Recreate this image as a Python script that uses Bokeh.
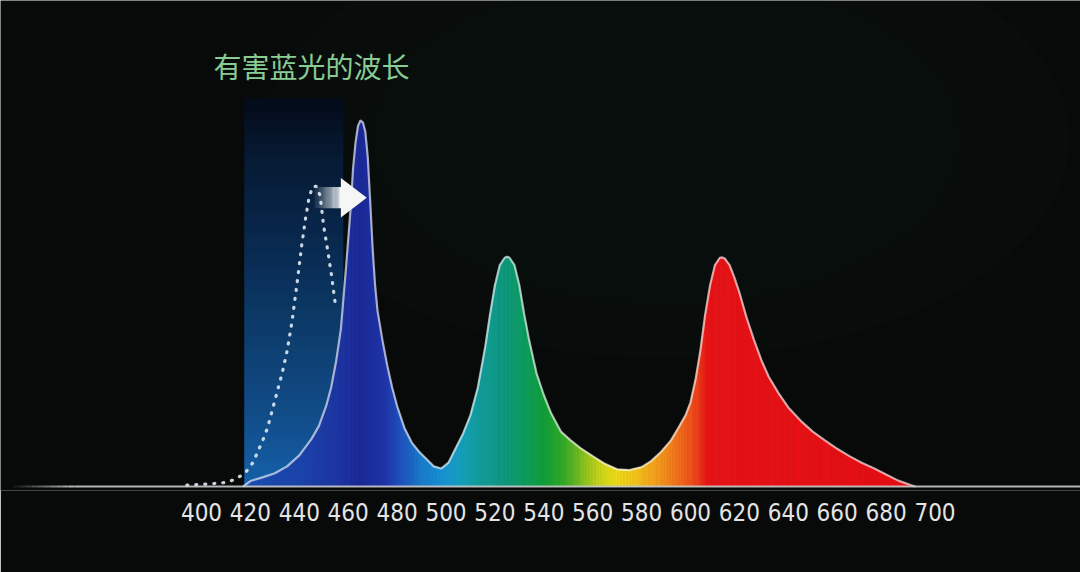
import numpy as np
from bokeh.plotting import figure
from bokeh.models import FixedTicker
from bokeh.embed import file_html
from bokeh.resources import INLINE
from bokeh.core.properties import value

# ---------------- data ----------------
TITLE = "有害蓝光的波长"
TICKS = [400, 420, 440, 460, 480, 500, 520, 540, 560, 580, 600, 620, 640, 660, 680, 700]

# LED spectrum: wavelength (nm) and relative intensity (blue peak = 100)
LED_NM = [417, 420, 425, 430, 435, 440, 445, 448, 451, 453, 455, 457, 459, 461, 462, 463, 464,
          465, 466, 467, 468, 469, 470, 471, 472, 474, 476, 478, 480, 483, 486, 489, 492, 495,
          498, 501, 504, 507, 510, 513, 516, 518, 520, 522, 524, 525, 526, 528, 530, 532, 534,
          537, 540, 543, 547, 551, 555, 560, 565, 570, 575, 580, 584, 588, 592, 595, 598, 600,
          602, 604, 606, 608, 610, 612, 613, 614, 616, 618, 620, 623, 626, 629, 632, 636, 640,
          645, 650, 655, 660, 665, 670, 675, 680, 685, 690, 692]
LED_VAL = [0, 1.5, 2.5, 3.6, 5.5, 8.5, 13, 16.5, 22, 27, 34, 43, 59, 76, 87, 94, 98.5,
           100, 99.5, 97, 90, 78, 65, 55, 48, 40, 33, 27, 22, 16, 12, 9.5, 7.5, 5.5,
           4.9, 6.5, 10.5, 14.5, 19.5, 27, 38, 47, 55, 60.5, 62.5, 62.8, 62.5, 60.5, 55, 47, 40,
           31, 25, 20, 15, 12.6, 10.5, 8.3, 6.2, 4.7, 4.5, 5.3, 7, 9.5, 12.6, 16, 19.5, 23,
           29, 37, 47, 55, 60.5, 62.5, 62.6, 62.3, 60.5, 57, 53, 46, 40, 34.5, 30, 25.5, 21.6,
           18, 15, 12.6, 10.3, 8.3, 6.5, 5, 3.3, 1.6, 0.4, 0]

# Harmful blue light curve (dotted)
HAZ_NM = [394, 400, 405, 410, 414, 418, 421, 423, 425, 427, 429, 431, 433, 435, 437, 439,
          441, 442.5, 444, 445.5, 447, 448.5, 450, 451.5, 453, 455]
HAZ_VAL = [0.4, 0.6, 0.8, 1.1, 2, 3.8, 6.5, 9.5, 12.5, 16, 21, 26, 31, 37, 45, 55,
           66, 73, 79, 82, 82, 79.5, 71, 65, 58.5, 48.5]

# Harmful blue band
HAZ_BAND = [417.5, 458]
HAZ_BAND_TOP = 106

# ---------------- styling ----------------
BG = "#080a0a"
SPEC_STOP_NM = [410, 440, 455, 465, 475, 482, 490, 498, 505, 512, 522, 532, 540, 548, 555,
                562, 570, 578, 588, 597, 603, 607, 700]
SPEC_STOP_COL = ["#1d4fae", "#1c44aa", "#1e36a2", "#1c2a9a", "#1f36aa", "#1f55c0", "#1a7ccc",
                 "#1892d6", "#17a0c4", "#13a0a4", "#109a86", "#0f9c62", "#12a03c", "#32aa28",
                 "#78bc22", "#c4d41c", "#f0dc18", "#f4c21c", "#f4961c", "#f2661c", "#ee401a",
                 "#e81418", "#e60f14"]
BAND_STOP_V = [0, 20, 45, 70, 90, 106]
BAND_STOP_COL = ["#1560aa", "#114c88", "#0c3a68", "#08264a", "#061a33", "#040a18"]


def hex2rgb(h):
    h = h.lstrip("#")
    return [int(h[i:i + 2], 16) for i in (0, 2, 4)]


def interp_color(v, stops, cols):
    rgb = np.array([hex2rgb(c) for c in cols], dtype=float)
    r = [np.interp(v, stops, rgb[:, k]) for k in range(3)]
    return "#%02x%02x%02x" % tuple(int(round(c)) for c in r)


# ---------------- figure / scales ----------------
W, H = 1080, 572
PX_PER_NM = 2.445
X0 = 400 - 201 / PX_PER_NM
X1 = X0 + W / PX_PER_NM
FRAME_H = 490
PX_PER_UNIT = 3.66
Y0 = -(FRAME_H - 486) / PX_PER_UNIT
Y1 = Y0 + FRAME_H / PX_PER_UNIT

p = figure(width=W, height=H, x_range=(X0, X1), y_range=(Y0, Y1),
           output_backend="svg", toolbar_location=None, y_axis_location=None,
           min_border_left=0, min_border_right=0, min_border_top=0, min_border_bottom=H - FRAME_H)
p.background_fill_color = BG
p.border_fill_color = BG
p.outline_line_color = None
p.grid.visible = False

# faint greenish glow in background
for w, h, a in [(330, 120, 0.05), (240, 90, 0.05), (150, 60, 0.04)]:
    p.ellipse(x=[590], y=[95], width=[w], height=[h], fill_color="#1d3a30",
              fill_alpha=a, line_color=None)

# harmful band rectangle with vertical gradient
n_strip = 90
edges = np.linspace(0, HAZ_BAND_TOP, n_strip + 1)
band_cols = [interp_color((edges[i] + edges[i + 1]) / 2, BAND_STOP_V, BAND_STOP_COL)
             for i in range(n_strip)]
tops = np.minimum(edges[1:] + 0.4, HAZ_BAND_TOP)
p.quad(left=HAZ_BAND[0], right=HAZ_BAND[1], bottom=edges[:-1], top=tops,
       fill_color=band_cols, line_color=None)

# spectrum fill, coloured by wavelength
xs, ys, cols = [], [], []
for i in range(len(LED_NM) - 1):
    x0, x1 = LED_NM[i], LED_NM[i + 1]
    y0, y1 = LED_VAL[i], LED_VAL[i + 1]
    n = max(1, int(np.ceil((x1 - x0) / 0.7)))
    for k in range(n):
        a, b = k / n, (k + 1) / n
        xa, xb = x0 + (x1 - x0) * a, x0 + (x1 - x0) * b
        ya, yb = y0 + (y1 - y0) * a, y0 + (y1 - y0) * b
        xs.append([xa, xb, xb, xa])
        ys.append([0, 0, yb, ya])
        cols.append(interp_color((xa + xb) / 2, SPEC_STOP_NM, SPEC_STOP_COL))
p.patches(xs, ys, fill_color=cols, line_color=cols, line_width=0.7)

# spectrum outline
p.line(LED_NM, LED_VAL, line_color="#ffffff", line_alpha=0.62, line_width=2.2)

# baseline (fading in at the left)
x_start = X0 + 13 / PX_PER_NM
fade_x = np.linspace(x_start, x_start + 25, 11)
p.segment(x0=fade_x[:-1], y0=0, x1=fade_x[1:], y1=0, line_color="#c8c8c8",
          line_alpha=list(np.linspace(0.1, 0.9, 10)), line_width=2.2)
p.line([fade_x[-1], X1], [0, 0], line_color="#c8c8c8", line_alpha=0.9, line_width=2.2)

# dotted harmful-blue curve
p.line(HAZ_NM, HAZ_VAL, line_color="#dfe8f2", line_alpha=0.9, line_width=3.2,
       line_dash="1 8", line_cap="round")

# arrow from harmful peak to LED blue peak
haz_peak = HAZ_NM[int(np.argmax(HAZ_VAL))] + 0.75
led_peak = LED_NM[int(np.argmax(LED_VAL))]
tip = led_peak + 2.6
head_base = tip - 10.6
ay, half_shaft, half_head = 78.9, 2.9, 5.4
n_sh = 30
sx = np.linspace(haz_peak, head_base, n_sh + 1)
sh_alpha = [0.08 + 0.92 * ((k + 0.5) / n_sh) ** 1.4 for k in range(n_sh)]
p.quad(left=sx[:-1], right=sx[1:] + 0.05, bottom=ay - half_shaft, top=ay + half_shaft,
       fill_color="#ffffff", fill_alpha=sh_alpha, line_color=None)
p.patch([head_base, tip, head_base], [ay + half_head, ay, ay - half_head],
        fill_color="#f6f6f6", line_color=None)

# title
p.text(x=[404.9], y=[115.0], text=[TITLE], text_font=value("Noto Sans CJK SC"),
       text_font_size="28px", text_color="#88cc94", text_baseline="middle", text_align="left")

# x axis: tick labels only
ax = p.xaxis[0]
ax.ticker = FixedTicker(ticks=TICKS)
ax.axis_line_color = None
ax.major_tick_line_color = None
ax.minor_tick_line_color = None
ax.major_tick_out = 0
ax.major_label_standoff = 12
ax.major_label_text_font = "DejaVu Sans Condensed"
ax.major_label_text_font_size = "24px"
ax.major_label_text_color = "#e4e4e4"

open("out.html", "w").write(file_html(p, INLINE))
